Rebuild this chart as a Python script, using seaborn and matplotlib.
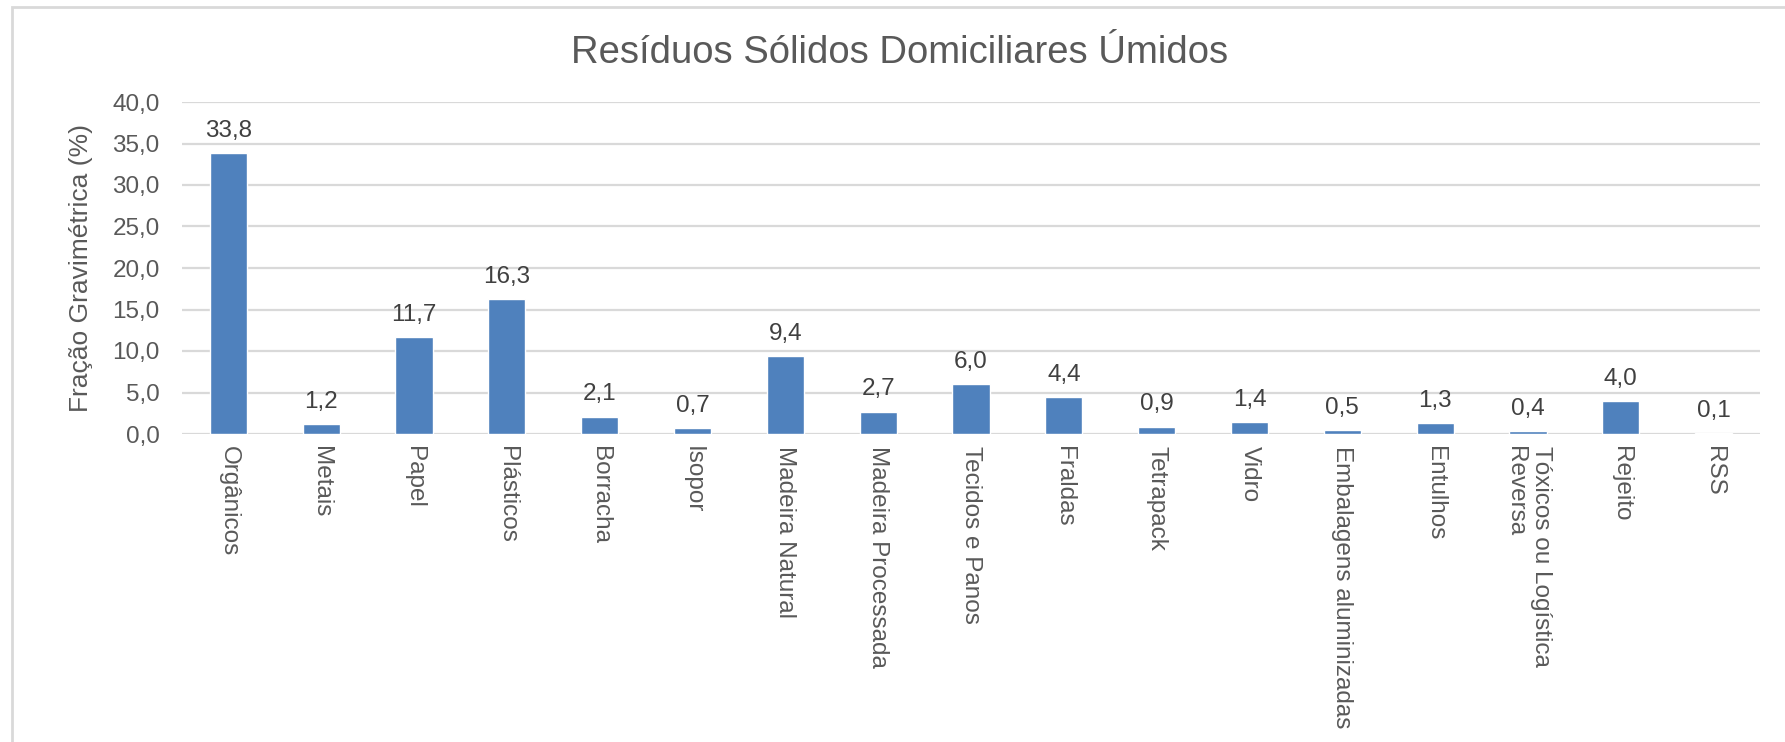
import numpy as np
import pandas as pd
import matplotlib
matplotlib.use("Agg")
import matplotlib.pyplot as plt
from matplotlib.patches import Rectangle
import seaborn as sns

categorias = ["Orgânicos", "Metais", "Papel", "Plásticos", "Borracha", "Isopor",
              "Madeira Natural", "Madeira Processada", "Tecidos e Panos", "Fraldas",
              "Tetrapack", "Vidro", "Embalagens aluminizadas", "Entulhos",
              "Tóxicos ou Logística\nReversa", "Rejeito", "RSS"]
fracao = [33.8, 1.2, 11.7, 16.3, 2.1, 0.7, 9.4, 2.7, 6.0, 4.4,
          0.9, 1.4, 0.5, 1.3, 0.4, 4.0, 0.1]
yticks = [0, 5, 10, 15, 20, 25, 30, 35, 40]

titulo = "Resíduos Sólidos Domiciliares Úmidos"
ylabel = "Fração Gravimétrica (%)"

sns.set_theme(style="white")
plt.rcParams["font.family"] = ["Liberation Sans", "DejaVu Sans"]

df = pd.DataFrame({"categoria": categorias, "fracao": fracao})

W, H = 1785, 742
fig = plt.figure(figsize=(W / 100, H / 100), dpi=100)
ax = fig.add_axes([182 / W, 1 - 434 / H, (1760 - 182) / W, (434 - 102) / H])

sns.barplot(data=df, x="categoria", y="fracao", color="#4f81bd", width=0.4,
            saturation=1, ax=ax, zorder=3)

ax.set_ylim(0, 40)
ax.set_xlim(-0.5, len(categorias) - 0.5)
ax.set_yticks(yticks)
ax.set_yticklabels([f"{v:.1f}".replace(".", ",") for v in yticks])
ax.yaxis.grid(True, color="#d9d9d9", linewidth=1.6, zorder=0)
ax.xaxis.grid(False)
for s in ax.spines.values():
    s.set_visible(False)
ax.tick_params(axis="y", length=0, pad=16, labelsize=17.5, labelcolor="#595959")
ax.tick_params(axis="x", length=0, pad=9, labelsize=17.5, labelcolor="#595959")
plt.setp(ax.get_xticklabels(), rotation=-90, ha="center", va="top",
         multialignment="left")
ax.set_xlabel("")
ax.set_ylabel(ylabel, fontsize=19, color="#595959", labelpad=14)

for p, v in zip(ax.patches, fracao):
    ax.annotate(f"{v:.1f}".replace(".", ","),
                (p.get_x() + p.get_width() / 2, p.get_height()),
                xytext=(0, 8), textcoords="offset points",
                ha="center", va="bottom", fontsize=17.5, color="#404040")

fig.text(900 / W, 1 - 53 / H, titulo, ha="center", va="center",
         fontsize=27.5, color="#595959")

# moldura da area do grafico
fig.patches.append(Rectangle((12 / W, -0.1), 1.2, 1 - 7 / H + 0.1,
                             transform=fig.transFigure, fill=False,
                             edgecolor="#d9d9d9", linewidth=2))

fig.savefig("out.png", dpi=100, facecolor="white")
